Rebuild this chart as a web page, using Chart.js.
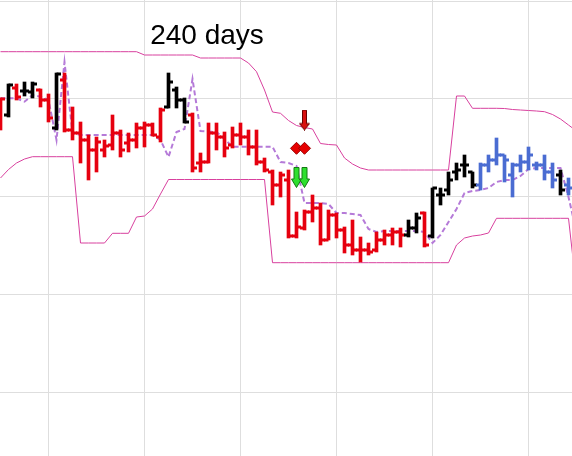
<!DOCTYPE html>
<html>
<head>
<meta charset="utf-8">
<script src="https://cdn.jsdelivr.net/npm/chart.js@4.4.0/dist/chart.umd.min.js"></script>
<style>
  html, body { margin: 0; padding: 0; background: #fff; }
  #wrap { width: 572px; height: 456px; }
</style>
</head>
<body>
<div id="wrap"><canvas id="mainChart"></canvas></div>
<script>
// price bars, one per period (index 0..71)
const titleText = "240 days";

const highs = [35.8, 37.2, 37.2, 37.4, 37.4, 36.7, 36.2, 38.3, 38.3, 34.9,
  33.4, 32.1, 31.9, 31.6, 34.1, 32.6, 32.3, 33.3, 33.4, 33.3,
  34.8, 38.3, 36.9, 35.8, 34.3, 30.3, 33.3, 33.3, 32.4, 32.9,
  33.3, 32.6, 32.6, 29.8, 28.6, 28.4, 28.6, 24.4, 24.6, 26.1,
  25.3, 24.6, 24.3, 22.9, 23.6, 21.9, 21.3, 22.4, 22.6, 22.8,
  22.8, 23.6, 24.3, 24.4, 26.8, 26.8, 28.4, 29.3, 30.1, 28.4,
  29.3, 30.1, 31.8, 30.1, 29.3, 30.1, 30.9, 29.4, 30.1, 29.3,
  28.6, 27.8];
const lows = [32.6, 33.9, 35.6, 36.0, 35.8, 34.9, 33.4, 32.6, 32.4, 31.6,
  29.3, 27.6, 28.4, 29.9, 30.6, 29.9, 30.4, 30.8, 30.9, 32.0,
  31.4, 34.8, 34.8, 33.3, 28.4, 28.4, 29.3, 30.6, 29.9, 30.8,
  31.1, 30.1, 29.1, 28.4, 25.1, 25.9, 21.8, 21.8, 22.6, 23.4,
  21.1, 21.6, 21.8, 20.3, 20.1, 19.4, 20.1, 20.4, 21.1, 21.1,
  20.9, 21.9, 22.3, 20.9, 21.8, 25.1, 26.1, 27.6, 27.9, 26.8,
  26.6, 28.4, 29.1, 27.4, 25.9, 28.4, 28.6, 28.6, 27.6, 26.8,
  26.1, 26.1];
const opens = [33.6, 34.1, 36.8, 36.5, 36.4, 36.6, 35.6, 32.8, 37.6, 32.6,
  32.3, 31.6, 30.6, 30.6, 31.1, 32.3, 31.3, 31.6, 32.8, 33.1,
  31.9, 34.9, 36.6, 35.6, 34.1, 29.3, 29.4, 32.3, 31.9, 31.1,
  32.1, 31.9, 30.9, 29.4, 28.4, 27.1, 27.6, 22.0, 22.8, 24.4,
  24.8, 21.6, 24.1, 22.6, 21.1, 20.6, 20.6, 20.6, 21.6, 22.1,
  22.4, 22.1, 22.8, 24.3, 22.0, 26.1, 26.6, 28.4, 29.1, 28.4,
  27.1, 29.1, 29.6, 30.1, 28.1, 29.1, 29.4, 29.1, 29.1, 28.4,
  28.1, 27.1];
const closes = [35.7, 37.1, 35.9, 36.5, 37.2, 35.6, 33.8, 38.2, 32.6, 32.3,
  31.6, 30.6, 31.4, 31.0, 32.3, 30.6, 31.6, 32.8, 33.1, 32.1,
  34.6, 37.4, 35.6, 33.4, 28.8, 29.4, 32.3, 31.9, 30.8, 32.1,
  31.9, 30.9, 29.4, 28.6, 27.1, 28.1, 22.0, 22.9, 24.4, 24.8,
  21.6, 24.1, 22.6, 21.1, 20.6, 20.6, 20.4, 21.6, 22.1, 22.4,
  22.1, 22.8, 23.8, 21.1, 26.8, 26.1, 27.6, 28.6, 29.1, 27.1,
  29.1, 29.6, 30.1, 29.6, 29.1, 29.4, 30.1, 29.1, 28.4, 27.6,
  26.6, 26.8];
// r = down trend, k = neutral, b = up trend
const trend = ("rkrkkrrkr" + "rrrrrrrrrrrr" + "kkk" + "rrrrrrrrrrrrrrrrrrrrrrrrrrr" +
  "kk" + "r" + "kkkkkk" + "bbbbbbbbbb" + "k" + "b").split("");

// channel and average, one value per period plus one beyond the right edge
const upperBand = [40.43, 40.43, 40.43, 40.43, 40.43, 40.43, 40.43, 40.43, 40.43, 40.43,
  40.43, 40.43, 40.43, 40.43, 40.43, 40.43, 40.43, 40.43, 40.1, 40.1,
  40.1, 40.1, 40.1, 40.1, 40.1, 39.8, 39.8, 39.8, 39.8, 39.8,
  39.8, 39.3, 38.43, 36.6, 34.4, 34.27, 33.55, 33.05, 32.85, 32.7,
  31.25, 31.15, 31.1, 29.8, 29.2, 28.8, 28.6, 28.6, 28.6, 28.6,
  28.6, 28.6, 28.6, 28.6, 28.6, 28.6, 28.6, 36.0, 36.0, 34.77,
  34.77, 34.77, 34.77, 34.75, 34.65, 34.6, 34.55, 34.5, 34.43, 34.15,
  33.7, 33.1, 32.5];
const lowerBand = [27.8, 28.65, 29.3, 29.7, 29.93, 29.93, 29.93, 29.93, 29.93, 29.93,
  21.3, 21.3, 21.3, 21.3, 22.27, 22.27, 22.27, 23.9, 24.0, 24.7,
  26.2, 27.65, 27.65, 27.65, 27.65, 27.65, 27.65, 27.65, 27.65, 27.65,
  27.65, 27.65, 27.65, 27.65, 19.33, 19.33, 19.33, 19.33, 19.33, 19.33,
  19.33, 19.33, 19.33, 19.33, 19.33, 19.33, 19.33, 19.33, 19.33, 19.33,
  19.33, 19.33, 19.33, 19.33, 19.33, 19.33, 19.33, 21.1, 21.8, 22.0,
  22.1, 22.3, 23.77, 23.77, 23.77, 23.77, 23.77, 23.77, 23.77, 23.77,
  23.77, 23.77, 16.6];
const average = [35.77, 35.77, 35.77, 35.43, 36.1, 35.93, 35.6, 31.6, 39.4, 32.3,
  32.1, 32.1, 32.1, 32.1, 32.1, 32.1, 32.1, 32.1, 32.1, 32.1,
  31.6, 29.9, 32.4, 32.7, 37.7, 32.5, 32.43, 32.4, 31.7, 30.93,
  30.93, 30.93, 30.93, 30.93, 30.93, 29.4, 29.3, 29.0, 25.3, 25.3,
  25.3, 25.2, 24.3, 24.3, 24.2, 24.1, 22.7, 22.4, 22.5, 22.5,
  22.5, 22.5, 22.5, 22.4, 21.3, 22.1, 23.4, 24.7, 26.3, 26.5,
  26.6, 26.8, 27.4, 27.6, 27.6, 28.0, 28.7, 28.8, 28.8, 28.8,
  28.8, 25.9, 22.4];

// signals
const sellArrowBars = [38];
const sellArrowLevel = 33.6;
const diamondBars = [37, 38];
const diamondLevel = 30.77;
const greenArrowBars = [37, 38];
const greenArrowLevel = 27.85;

// grid positions
const xGrid = [6, 18, 30, 42, 54, 66];
const yGrid = [45.5, 35.73, 25.95, 16.2, 6.4];

const trendColors = { r: '#e6000f', k: '#000000', b: '#4a6cd2' };
const barColors = trend.map(t => trendColors[t]);

function makeArrow(w, h, shaftW, headH, fill, stroke) {
  const c = document.createElement('canvas');
  c.width = w; c.height = h;
  const g = c.getContext('2d');
  const cx = w / 2;
  g.beginPath();
  g.moveTo(cx - shaftW / 2, 0.5);
  g.lineTo(cx + shaftW / 2, 0.5);
  g.lineTo(cx + shaftW / 2, h - headH);
  g.lineTo(w - 0.5, h - headH);
  g.lineTo(cx, h - 0.5);
  g.lineTo(0.5, h - headH);
  g.lineTo(cx - shaftW / 2, h - headH);
  g.closePath();
  g.fillStyle = fill; g.fill();
  g.strokeStyle = stroke; g.lineWidth = 1; g.stroke();
  return c;
}

const sellArrow = makeArrow(11, 21, 4, 7, '#d81010', '#6a0000');
const greenArrow = makeArrow(11, 21, 5, 9, '#2ee02e', '#137a13');

const titlePlugin = {
  id: 'periodTitle',
  afterDraw(chart) {
    const ctx = chart.ctx;
    ctx.save();
    ctx.font = '28px "Liberation Sans", Arial, sans-serif';
    ctx.fillStyle = '#000';
    ctx.textAlign = 'center';
    ctx.fillText(titleText, 207, 44);
    ctx.restore();
  }
};

const pts = arr => arr.map((v, i) => ({ x: i, y: v }));

new Chart(document.getElementById('mainChart'), {
  type: 'line',
  data: {
    datasets: [
      { label: 'sell', data: sellArrowBars.map(i => ({ x: i, y: sellArrowLevel })), showLine: false,
        pointStyle: sellArrow, pointRadius: 6, order: 0 },
      { label: 'diamonds', data: diamondBars.map(i => ({ x: i, y: diamondLevel })), showLine: false,
        pointStyle: 'rectRot', pointRadius: 6, pointBackgroundColor: '#e60000',
        pointBorderColor: '#9a0000', pointBorderWidth: 1, order: 0 },
      { label: 'green', data: greenArrowBars.map(i => ({ x: i, y: greenArrowLevel })), showLine: false,
        pointStyle: greenArrow, pointRadius: 6, order: 0 },
      { label: 'open', data: pts(opens), showLine: false, pointStyle: 'dash', pointRadius: 4.5,
        pointRotation: 180, pointBorderWidth: 3, pointBorderColor: barColors, pointBackgroundColor: barColors, order: 1 },
      { label: 'close', data: pts(closes), showLine: false, pointStyle: 'dash', pointRadius: 4.5,
        pointBorderWidth: 3, pointBorderColor: barColors, pointBackgroundColor: barColors, order: 1 },
      { type: 'bar', label: 'range', data: lows.map((l, i) => ({ x: i, y: [l, highs[i]] })),
        backgroundColor: barColors, barThickness: 3, borderWidth: 0, order: 2 },
      { label: 'average', data: pts(average), borderColor: '#b57ad8', borderWidth: 2, borderDash: [5, 3],
        pointRadius: 0, tension: 0, fill: false, order: 3 },
      { label: 'upper', data: pts(upperBand), borderColor: '#d8409e', borderWidth: 1,
        pointRadius: 0, tension: 0, fill: false, order: 4 },
      { label: 'lower', data: pts(lowerBand), borderColor: '#d8409e', borderWidth: 1,
        pointRadius: 0, tension: 0, fill: false, order: 4 }
    ]
  },
  options: {
    responsive: true,
    maintainAspectRatio: false,
    animation: false,
    layout: { padding: 0, autoPadding: false },
    plugins: { legend: { display: false }, tooltip: { enabled: false }, title: { display: false } },
    scales: {
      x: {
        type: 'linear', min: -0.0625, max: 71.4375, offset: false,
        ticks: { display: false },
        grid: { color: '#dedede', drawTicks: false, offset: false },
        border: { display: false },
        afterBuildTicks: s => { s.ticks = xGrid.map(v => ({ value: v })); }
      },
      y: {
        type: 'linear', min: 0, max: 45.6,
        ticks: { display: false },
        grid: { color: '#dedede', drawTicks: false },
        border: { display: false },
        afterBuildTicks: s => { s.ticks = yGrid.map(v => ({ value: v })); }
      }
    }
  },
  plugins: [titlePlugin]
});
</script>
</body>
</html>
